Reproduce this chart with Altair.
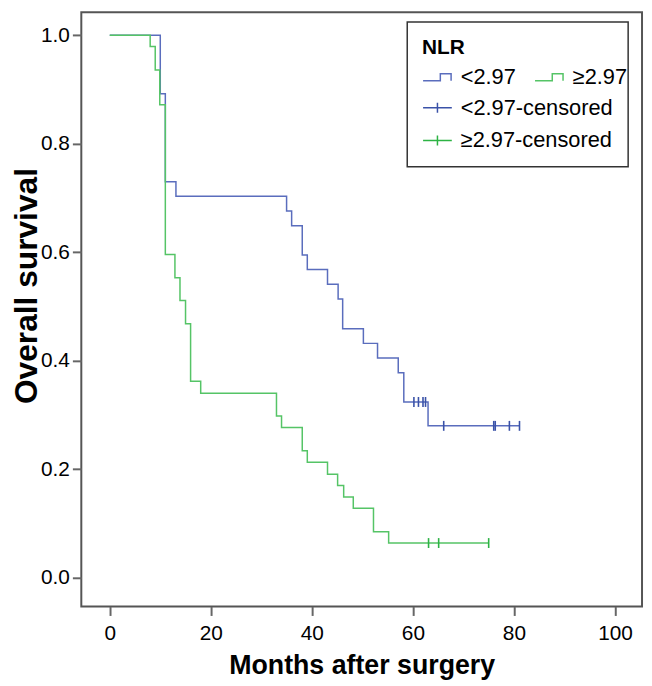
import altair as alt
import pandas as pd

# ---- data ----
groups = ["<2.97", "≥2.97"]
cens_groups = ["<2.97-censored", "≥2.97-censored"]

low_months = [0, 10.0, 11.0, 13.1, 35.0, 36.0, 38.1, 39.1, 43.1, 45.2, 46.1, 50.2, 53.0, 57.1, 58.2, 63.0, 81.1]
low_surv = [1.0, 0.892, 0.730, 0.703, 0.676, 0.649, 0.595, 0.568, 0.541, 0.514, 0.459, 0.432, 0.405, 0.378, 0.324, 0.280, 0.280]

high_months = [0, 8.0, 9.0, 9.9, 11.0, 12.9, 13.9, 15.0, 16.0, 18.0, 33.0, 34.0, 38.1, 39.1, 43.1, 45.1, 46.3, 48.2, 52.2, 55.2, 75.0]
high_surv = [1.0, 0.979, 0.936, 0.872, 0.596, 0.553, 0.511, 0.468, 0.362, 0.340, 0.298, 0.277, 0.234, 0.213, 0.191, 0.170, 0.149, 0.128, 0.085, 0.064, 0.064]

low_cens_months = [60.2, 61.1, 62.0, 62.5, 66.1, 76.0, 76.3, 79.1, 81.1]
low_cens_surv = [0.324, 0.324, 0.324, 0.324, 0.280, 0.280, 0.280, 0.280, 0.280]

high_cens_months = [63.1, 65.1, 75.0]
high_cens_surv = [0.064, 0.064, 0.064]

x_ticks = [0, 20, 40, 60, 80, 100]
y_ticks = [0.0, 0.2, 0.4, 0.6, 0.8, 1.0]

line_colors = ["#5a6dbd", "#55c466"]
cens_colors = ["#3a52a8", "#2db344"]

lines_df = pd.DataFrame({
    "month": low_months + high_months,
    "surv": low_surv + high_surv,
    "group": [groups[0]] * len(low_months) + [groups[1]] * len(high_months),
})
cens_df = pd.DataFrame({
    "month": low_cens_months + high_cens_months,
    "surv": low_cens_surv + high_cens_surv,
    "cgroup": [cens_groups[0]] * len(low_cens_months) + [cens_groups[1]] * len(high_cens_months),
})

FONT = "Liberation Sans"
step_path = "M-1,0.24L0.2,0.24L0.2,-0.24L0.95,-0.24L0.95,0.24"
cross_path = "M-1,0L1,0M0,-0.35L0,0.35"

x_scale = alt.Scale(domain=[-5.63, 105.35], nice=False, zero=False)
y_scale = alt.Scale(domain=[-0.053, 1.0425], nice=False, zero=False)

x_enc = alt.X(
    "month:Q", scale=x_scale,
    axis=alt.Axis(values=x_ticks, title="Months after surgery", labelPadding=7,
                  titleY=68, titleBaseline="alphabetic", titleFontSize=27),
)
y_enc = alt.Y(
    "surv:Q", scale=y_scale,
    axis=alt.Axis(values=y_ticks, format=".1f", title="Overall survival", labelPadding=3,
                  titleX=-45, titleY=276, titleBaseline="alphabetic", titleFontSize=32),
)

lines = alt.Chart(lines_df).mark_line(interpolate="step-after", strokeWidth=1.5).encode(
    x=x_enc,
    y=y_enc,
    color=alt.Color(
        "group:N",
        scale=alt.Scale(domain=groups, range=line_colors),
        legend=alt.Legend(
            title=None, orient="none", legendX=344, legendY=50, columns=2,
            columnPadding=16, symbolType=step_path, symbolSize=841,
            symbolStrokeWidth=1.5, labelFontSize=22, labelOffset=8, padding=0,
        ),
    ),
    order=alt.Order("month:Q"),
)

cens = alt.Chart(cens_df).mark_point(
    shape="M0,-1L0,1", size=100, filled=False, strokeWidth=1.6, opacity=1
).encode(
    x=alt.X("month:Q", scale=x_scale),
    y=alt.Y("surv:Q", scale=y_scale),
    color=alt.Color(
        "cgroup:N",
        scale=alt.Scale(domain=cens_groups, range=cens_colors),
        legend=alt.Legend(
            title="NLR", orient="none", legendX=329, legendY=10,
            symbolType=cross_path, symbolSize=841, symbolStrokeWidth=1.5,
            padding=15, strokeColor="#333333", titleFontSize=21,
            titleFontWeight="bold", titlePadding=35, rowPadding=6,
            labelFontSize=22, labelOffset=8,
        ),
    ),
)

chart = (
    alt.layer(lines, cens)
    .resolve_scale(color="independent")
    .properties(
        width=566, height=600,
        padding={"left": 74, "top": 1, "right": 2, "bottom": 72},
        autosize=alt.AutoSizeParams(type="none"),
    )
    .configure(font=FONT)
    .configure_view(stroke="#555555", strokeWidth=2)
    .configure_axis(
        domain=False, grid=False, tickColor="#666666", tickWidth=2, tickSize=9,
        labelFont=FONT, labelFontSize=21, labelColor="black",
        titleFont=FONT, titleFontWeight="bold", titleColor="black",
    )
    .configure_legend(
        labelFont=FONT, labelColor="black", titleFont=FONT, titleColor="black",
        strokeWidth=1.5,
    )
)

chart.save("out.html", embed_options={"renderer": "svg", "actions": False})
